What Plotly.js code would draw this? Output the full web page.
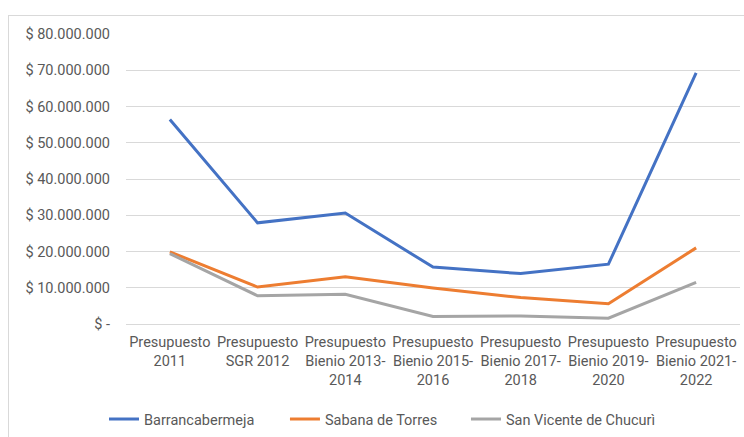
<!DOCTYPE html>
<html>
<head>
<meta charset="utf-8">
<script src="https://cdn.plot.ly/plotly-3.0.1.min.js"></script>
<style>
  html, body { margin: 0; padding: 0; background: #fff; }
  #wrap { position: relative; width: 744px; height: 437px; overflow: hidden; }
  #frame { position: absolute; left: 8px; top: 15px; width: 800px; height: 500px;
           border-left: 1px solid #d9d9d9; border-top: 1px solid #d9d9d9; pointer-events: none; }
  #chart { position: absolute; left: 0; top: 0; width: 744px; height: 437px; }
</style>
</head>
<body>
<div id="wrap">
  <div id="chart"></div>
  <div id="frame"></div>
</div>
<script>
const categories = [
  "Presupuesto<br>2011",
  "Presupuesto<br>SGR 2012",
  "Presupuesto<br>Bienio 2013-<br>2014",
  "Presupuesto<br>Bienio 2015-<br>2016",
  "Presupuesto<br>Bienio 2017-<br>2018",
  "Presupuesto<br>Bienio 2019-<br>2020",
  "Presupuesto<br>Bienio 2021-<br>2022"
];
const barrancabermeja = [56400000, 27900000, 30600000, 15700000, 13900000, 16500000, 69300000];
const sabanaDeTorres  = [19900000, 10200000, 13000000,  9900000,  7300000,  5600000, 21000000];
const sanVicente      = [19400000,  7800000,  8200000,  2100000,  2200000,  1600000, 11500000];
const tickVals  = [0, 10000000, 20000000, 30000000, 40000000, 50000000, 60000000, 70000000, 80000000];
const tickTexts = ["$ -", "$ 10.000.000", "$ 20.000.000", "$ 30.000.000", "$ 40.000.000",
                   "$ 50.000.000", "$ 60.000.000", "$ 70.000.000", "$ 80.000.000"];

const font = "Roboto, sans-serif";

const mk = (name, y, color, legend) => ({
  type: "scatter", mode: "lines", name: name, x: categories, y: y,
  line: { color: color, width: 3 }, legend: legend
});

const data = [
  mk("Barrancabermeja", barrancabermeja, "#4472C4", "legend"),
  mk("Sabana de Torres", sabanaDeTorres, "#ED7D31", "legend2"),
  mk("San Vicente de Chucurì", sanVicente, "#A5A5A5", "legend3")
];

const legendBase = (x) => ({
  orientation: "h", xref: "container", yref: "container",
  x: x, xanchor: "left", y: 0.041, yanchor: "middle",
  font: { family: font, size: 14.5, color: "#595959" },
  itemwidth: 30, tracegroupgap: 0, bgcolor: "rgba(0,0,0,0)"
});

const layout = {
  width: 744, height: 437,
  margin: { l: 126, r: 4, t: 34, b: 113, autoexpand: false },
  paper_bgcolor: "rgba(0,0,0,0)", plot_bgcolor: "#fff",
  font: { family: font, size: 14.5, color: "#595959" },
  showlegend: true,
  legend: legendBase(0.1398),
  legend2: legendBase(0.383),
  legend3: legendBase(0.6263),
  xaxis: {
    type: "category", range: [-0.5, 6.5],
    showgrid: false, zeroline: false,
    showline: true, linecolor: "#d9d9d9", linewidth: 1,
    ticks: "", tickangle: 0, automargin: false, ticklabelstandoff: 5,
    tickfont: { family: font, size: 14.5, color: "#595959" }
  },
  yaxis: {
    range: [0, 80000000], tickvals: tickVals, ticktext: tickTexts,
    showgrid: true, gridcolor: "#d9d9d9", gridwidth: 1,
    zeroline: false, showline: false, ticks: "", automargin: false,
    ticklabelstandoff: 15,
    tickfont: { family: font, size: 14.5, color: "#595959" }
  }
};

Plotly.newPlot("chart", data, layout, { displayModeBar: false, staticPlot: true });
</script>
</body>
</html>
